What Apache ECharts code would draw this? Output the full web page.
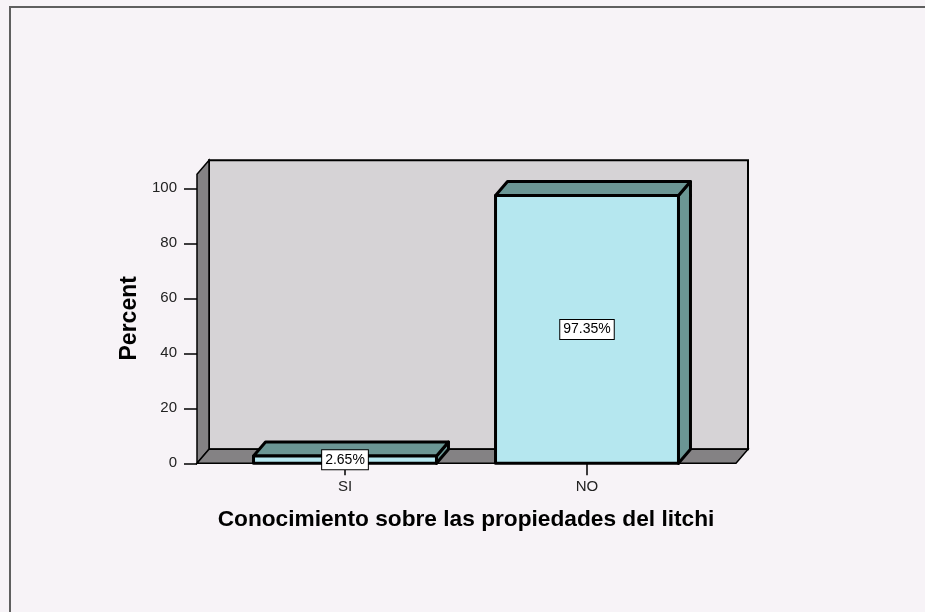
<!DOCTYPE html>
<html>
<head>
<meta charset="utf-8">
<script src="https://cdn.jsdelivr.net/npm/echarts@6/dist/echarts.min.js"></script>
<style>
  html, body { margin: 0; padding: 0; background: #f7f3f7; }
  #chart { width: 925px; height: 612px; }
</style>
</head>
<body>
<div id="chart"></div>
<script>
const categories = ["SI", "NO"];
const percents = [2.65, 97.35];
const yMin = 0;
const yMax = 100;
const yInterval = 20;

const FONT = '"Liberation Sans", Arial, sans-serif';
// desplazamiento de profundidad (efecto 3D)
const DX = 12;
const DY = -14;

const chart = echarts.init(document.getElementById("chart"));

// paredes y suelo del grafico
function renderWalls(params, api) {
  const cs = params.coordSys;
  const left = cs.x - 27;
  const right = cs.x + cs.width + 28;
  const top = cs.y - 14;
  const bottom = cs.y + cs.height;
  const wallStyle = { fill: "#848284", stroke: "#000", lineWidth: 1.5 };
  return {
    type: "group",
    children: [
      {
        type: "rect",
        shape: { x: left + DX, y: top + DY, width: right - left, height: bottom - top },
        style: { fill: "#d6d3d6", stroke: "#000", lineWidth: 2 },
      },
      {
        type: "polygon",
        shape: { points: [[left, top], [left + DX, top + DY], [left + DX, bottom + DY], [left, bottom]] },
        style: wallStyle,
      },
      {
        type: "polygon",
        shape: { points: [[left, bottom], [left + DX, bottom + DY], [right + DX, bottom + DY], [right, bottom]] },
        style: wallStyle,
      },
    ],
  };
}

function renderBar(params, api) {
  const idx = api.value(0);
  const val = api.value(1);
  const top = api.coord([idx, val]);
  const base = api.coord([idx, 0]);
  const w = api.size([1, 0])[0] * 0.756;
  const x0 = top[0] - w / 2;
  const x1 = top[0] + w / 2;
  const y0 = base[1];
  const y1 = top[1];
  const line = { stroke: "#000", lineWidth: 3, lineJoin: "round" };
  return {
    type: "group",
    children: [
      {
        type: "polygon",
        shape: { points: [[x1, y1], [x1 + DX, y1 + DY], [x1 + DX, y0 + DY], [x1, y0]] },
        style: Object.assign({ fill: "#6b9694" }, line),
      },
      {
        type: "polygon",
        shape: { points: [[x0, y1], [x0 + DX, y1 + DY], [x1 + DX, y1 + DY], [x1, y1]] },
        style: Object.assign({ fill: "#6b9694" }, line),
      },
      {
        type: "rect",
        shape: { x: x0, y: y1, width: w, height: y0 - y1 },
        style: Object.assign({ fill: "#b5e7ef" }, line),
      },
      {
        type: "text",
        style: {
          text: val.toFixed(2) + "%",
          x: top[0],
          y: (y0 + y1) / 2,
          align: "center",
          verticalAlign: "middle",
          fill: "#000",
          fontSize: 14,
          fontFamily: FONT,
          backgroundColor: "#fff",
          borderColor: "#000",
          borderWidth: 1,
          padding: [3, 3, 2, 3],
        },
      },
    ],
  };
}

const option = {
  backgroundColor: "#f7f3f7",
  animation: false,
  graphic: [
    {
      type: "rect",
      shape: { x: 10, y: 7, width: 1000, height: 1000 },
      style: { fill: "none", stroke: "#5f5f5f", lineWidth: 2 },
      z: 100,
    },
  ],
  grid: {
    left: 224,
    right: 217,
    top: 188.3,
    bottom: 148.7,
  },
  xAxis: {
    type: "category",
    data: categories,
    axisLine: { show: false },
    axisTick: { show: true, alignWithLabel: true, length: 12, lineStyle: { color: "#000", width: 1.5 } },
    axisLabel: { margin: 16, fontSize: 15, fontFamily: FONT, color: "#222" },
    name: "Conocimiento sobre las propiedades del litchi",
    nameLocation: "middle",
    nameGap: 45,
    nameTextStyle: { fontSize: 22.7, fontWeight: "bold", fontFamily: FONT, color: "#000" },
  },
  yAxis: {
    type: "value",
    min: yMin,
    max: yMax,
    interval: yInterval,
    offset: 27,
    axisLine: { show: false },
    axisTick: { show: true, length: 13, lineStyle: { color: "#000", width: 1.5 } },
    axisLabel: { margin: 20, fontSize: 15, fontFamily: FONT, color: "#222" },
    splitLine: { show: false },
    name: "Percent",
    nameLocation: "middle",
    nameRotate: 90,
    nameGap: 55,
    nameTextStyle: { fontSize: 23, fontWeight: "bold", fontFamily: FONT, color: "#000", padding: [0, 0, 0, 15] },
  },
  series: [
    {
      type: "custom",
      z: 1,
      silent: true,
      renderItem: renderWalls,
      data: [[0, 0]],
      encode: { x: 0, y: 1 },
    },
    {
      type: "custom",
      z: 2,
      renderItem: renderBar,
      data: categories.map((c, i) => [i, percents[i]]),
      encode: { x: 0, y: 1 },
    },
  ],
};

chart.setOption(option);
</script>
</body>
</html>
